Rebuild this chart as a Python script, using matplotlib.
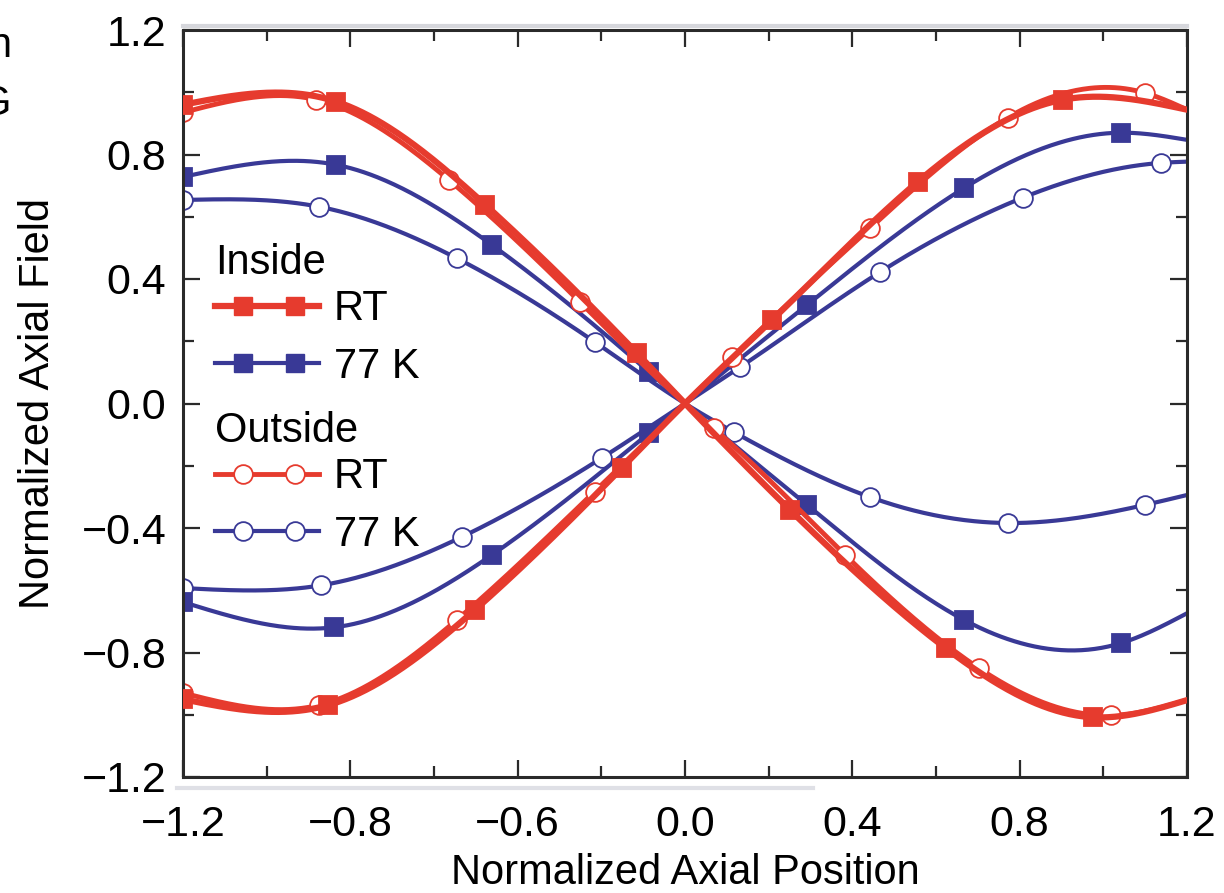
import numpy as np
import matplotlib
matplotlib.use("Agg")
import matplotlib.pyplot as plt
from matplotlib.lines import Line2D
from matplotlib.legend_handler import HandlerLine2D

plt.rcParams['font.family'] = ['Liberation Sans', 'DejaVu Sans']

RED = '#e63b2e'
BLUE = '#393996'

# marker positions (x, y) for each branch
# "dn" = branch falling from upper left, "up" = branch rising to upper right
in_rt_dn_x = [-1.2, -0.834, -0.477, -0.115, 0.251, 0.623, 0.975]
in_rt_dn_y = [0.96, 0.97, 0.638, 0.162, -0.342, -0.786, -1.008]
in_rt_up_x = [-1.2, -0.853, -0.503, -0.151, 0.208, 0.556, 0.903]
in_rt_up_y = [-0.95, -0.969, -0.664, -0.207, 0.268, 0.712, 0.976]

in_77_dn_x = [-1.2, -0.834, -0.462, -0.086, 0.292, 0.668, 1.042]
in_77_dn_y = [0.728, 0.767, 0.510, 0.101, -0.326, -0.696, -0.770]
in_77_up_x = [-1.2, -0.838, -0.462, -0.086, 0.292, 0.668, 1.042]
in_77_up_y = [-0.638, -0.719, -0.487, -0.095, 0.317, 0.693, 0.870]

out_rt_dn_x = [-1.2, -0.881, -0.565, -0.251, 0.069, 0.383, 0.703, 1.018]
out_rt_dn_y = [0.935, 0.976, 0.719, 0.326, -0.080, -0.487, -0.851, -1.002]
out_rt_up_x = [-1.2, -0.874, -0.546, -0.216, 0.113, 0.443, 0.771, 1.099]
out_rt_up_y = [-0.93, -0.969, -0.696, -0.283, 0.150, 0.564, 0.918, 0.998]

out_77_dn_x = [-1.2, -0.874, -0.546, -0.216, 0.117, 0.443, 0.771, 1.099]
out_77_dn_y = [0.654, 0.632, 0.467, 0.198, -0.092, -0.301, -0.384, -0.326]
out_77_up_x = [-1.2, -0.869, -0.534, -0.199, 0.132, 0.467, 0.807, 1.138]
out_77_up_y = [-0.593, -0.584, -0.429, -0.175, 0.117, 0.423, 0.661, 0.773]

# curve values at the right edge (line continues past last marker)
end_x = 1.2
in_rt_end = [-0.953, 0.944]
in_77_end = [-0.674, 0.847]
out_rt_end = [-0.953, 0.944]
out_77_end = [-0.294, 0.777]

xticks = [-1.2, -0.8, -0.4, 0.0, 0.4, 0.8, 1.2]
xticklabels = ['\u22121.2', '\u22120.8', '\u22120.6', '0.0', '0.4', '0.8', '1.2']
yticks = [-1.2, -0.8, -0.4, 0.0, 0.4, 0.8, 1.2]
yticklabels = ['\u22121.2', '\u22120.8', '\u22120.4', '0.0', '0.4', '0.8', '1.2']


def smooth(x, y, xs):
    # natural cubic spline through the points
    order = np.argsort(x)
    x = np.asarray(x, float)[order]
    y = np.asarray(y, float)[order]
    n = len(x)
    h = np.diff(x)
    A = np.zeros((n, n))
    r = np.zeros(n)
    A[0, 0] = A[-1, -1] = 1
    for i in range(1, n - 1):
        A[i, i - 1] = h[i - 1]
        A[i, i] = 2 * (h[i - 1] + h[i])
        A[i, i + 1] = h[i]
        r[i] = 3 * ((y[i + 1] - y[i]) / h[i] - (y[i] - y[i - 1]) / h[i - 1])
    c = np.linalg.solve(A, r)
    b = (y[1:] - y[:-1]) / h - h * (2 * c[:-1] + c[1:]) / 3
    d = (c[1:] - c[:-1]) / (3 * h)
    idx = np.clip(np.searchsorted(x, xs) - 1, 0, n - 2)
    t = xs - x[idx]
    return y[idx] + b[idx] * t + c[idx] * t ** 2 + d[idx] * t ** 3


def draw(ax, mx, my, yend, color, marker, lw, face, z):
    # all curves pass through the origin
    kx = list(mx) + [0.0, end_x]
    ky = list(my) + [0.0, yend]
    xs = np.linspace(-1.2, 1.2, 600)
    ax.plot(xs, smooth(kx, ky, xs), color=color, lw=lw, zorder=z,
            solid_capstyle='round')
    ax.plot(mx, my, ls='none', marker=marker, ms=13.5, mfc=face, mec=color,
            mew=1.3, zorder=z + 0.05)


class TwoMarkers(HandlerLine2D):
    def create_artists(self, legend, orig_handle, xdescent, ydescent,
                       width, height, fontsize, trans):
        y = height / 2 - ydescent
        x = np.array([0.0, 0.27, 0.77, 1.0]) * width - xdescent
        line = Line2D(x, [y] * 4)
        self.update_prop(line, orig_handle, legend)
        line.set_markevery([1, 2])
        line.set_transform(trans)
        return [line]


fig = plt.figure(figsize=(12.24, 8.93), dpi=100)
ax = fig.add_axes([183 / 1224, 1 - 777 / 893, 1004 / 1224, 747 / 893])

draw(ax, out_77_dn_x, out_77_dn_y, out_77_end[0], BLUE, 'o', 3.0, 'white', 2.0)
draw(ax, out_77_up_x, out_77_up_y, out_77_end[1], BLUE, 'o', 3.0, 'white', 2.0)
draw(ax, in_77_dn_x, in_77_dn_y, in_77_end[0], BLUE, 's', 3.0, BLUE, 2.2)
draw(ax, in_77_up_x, in_77_up_y, in_77_end[1], BLUE, 's', 3.0, BLUE, 2.2)
draw(ax, out_rt_dn_x, out_rt_dn_y, out_rt_end[0], RED, 'o', 3.5, 'white', 2.4)
draw(ax, out_rt_up_x, out_rt_up_y, out_rt_end[1], RED, 'o', 3.5, 'white', 2.4)
draw(ax, in_rt_dn_x, in_rt_dn_y, in_rt_end[0], RED, 's', 4.5, RED, 2.6)
draw(ax, in_rt_up_x, in_rt_up_y, in_rt_end[1], RED, 's', 4.5, RED, 2.6)

ax.set_xlim(-1.2, 1.2)
ax.set_ylim(-1.2, 1.2)
ax.set_xticks(xticks)
ax.set_xticklabels(xticklabels)
ax.set_yticks(yticks)
ax.set_yticklabels(yticklabels)
ax.set_xticks(np.arange(-1.0, 1.2, 0.4), minor=True)
ax.set_yticks(np.arange(-1.0, 1.2, 0.4), minor=True)
ax.tick_params(which='both', direction='in', top=True, right=True,
               width=1.6, color='#2a2a2a', labelsize=31, pad=12)
ax.tick_params(axis='x', which='both', pad=20)
ax.tick_params(which='major', length=12)
ax.tick_params(which='minor', length=8)
for s in ax.spines.values():
    s.set_linewidth(2.2)
    s.set_color('#2a2a2a')

ax.set_xlabel('Normalized Axial Position', fontsize=30, labelpad=6)
ax.set_ylabel('Normalized Axial Field', fontsize=30, labelpad=17)

h_in_rt = Line2D([], [], color=RED, lw=4.5, marker='s', ms=13.5, mfc=RED, mec=RED)
h_in_77 = Line2D([], [], color=BLUE, lw=3.0, marker='s', ms=13.5, mfc=BLUE, mec=BLUE)
h_out_rt = Line2D([], [], color=RED, lw=3.5, marker='o', ms=13.5, mfc='white', mec=RED, mew=1.3)
h_out_77 = Line2D([], [], color=BLUE, lw=3.0, marker='o', ms=13.5, mfc='white', mec=BLUE, mew=1.3)

kw = dict(loc='upper left', frameon=False, fontsize=30, title_fontsize=30,
          alignment='left', handlelength=2.5, handletextpad=0.35,
          labelspacing=0.42, borderpad=0, borderaxespad=0,
          handler_map={Line2D: TwoMarkers()})
leg1 = ax.legend([h_in_rt, h_in_77], ['RT', '77 K'], title='Inside',
                 bbox_to_anchor=(0.032, 0.715), **kw)
leg1._legend_box.sep = 4.7
ax.add_artist(leg1)
leg2 = ax.legend([h_out_rt, h_out_77], ['RT', '77 K'], title='Outside',
                 bbox_to_anchor=(0.032, 0.49), **kw)
leg2._legend_box.sep = 4.7

# faint scan lines around the frame
fig.add_artist(Line2D([183 / 1224, 1187 / 1224], [1 - 26 / 893] * 2,
                      color='#d6d7dc', lw=3))
fig.add_artist(Line2D([177 / 1224, 813 / 1224], [1 - 788 / 893] * 2,
                      color='#dfe0e6', lw=3))

# cut-off text from the neighbouring panel
fig.text(-12 / 1224, 1 - 57 / 893, 'n', fontsize=30, va='baseline')
fig.text(-21 / 1224, 1 - 115 / 893, 'G', fontsize=30, va='baseline')

fig.savefig('out.png', dpi=100)
